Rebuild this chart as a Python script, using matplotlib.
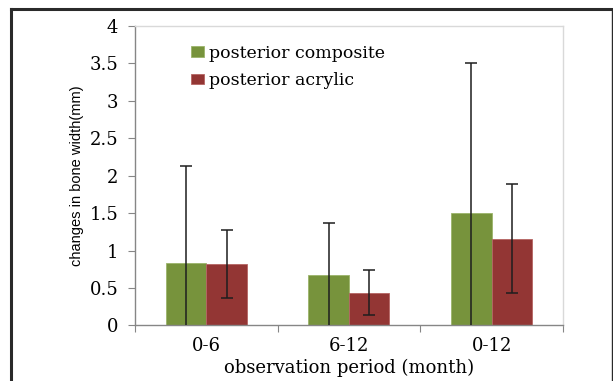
import matplotlib
matplotlib.use('Agg')
import matplotlib.pyplot as plt
from matplotlib.lines import Line2D

# data
periods = ['0-6', '6-12', '0-12']
composite = [0.83, 0.67, 1.50]
composite_err = [1.30, 0.70, 2.00]
acrylic = [0.82, 0.44, 1.16]
acrylic_err = [0.45, 0.30, 0.73]

green = '#77933c'
red = '#933634'
serif = ['DejaVu Serif']

fig = plt.figure(figsize=(6.13, 3.81), dpi=100)
ax = fig.add_axes([0.2202, 0.1457, 0.6982, 0.7861])

x = list(range(len(periods)))
w = 0.284
xg = [i - w / 2 for i in x]
xr = [i + w / 2 for i in x]

ax.bar(xg, composite, width=w, color=green, edgecolor='#9bb46a', linewidth=0.6,
       label='posterior composite', zorder=2)
ax.bar(xr, acrylic, width=w, color=red, edgecolor='#b56563', linewidth=0.6,
       label='posterior acrylic', zorder=2)
ax.errorbar(xg, composite, yerr=composite_err, fmt='none', ecolor='#1e1e1e',
            elinewidth=1.1, capsize=4, capthick=1.1, zorder=3)
ax.errorbar(xr, acrylic, yerr=acrylic_err, fmt='none', ecolor='#1e1e1e',
            elinewidth=1.1, capsize=4, capthick=1.1, zorder=3)

ax.set_xlim(-0.5, 2.5)
ax.set_ylim(0, 4)
ax.set_yticks([0, 0.5, 1, 1.5, 2, 2.5, 3, 3.5, 4])
ax.set_yticklabels(['0', '0.5', '1', '1.5', '2', '2.5', '3', '3.5', '4'],
                   fontfamily=serif, fontsize=13)

# category boundaries get the tick marks, labels sit in the middle
ax.set_xticks([-0.5, 0.5, 1.5, 2.5])
ax.set_xticklabels([])
ax.set_xticks(x, minor=True)
ax.set_xticklabels(periods, minor=True, fontfamily=serif, fontsize=13)
ax.tick_params(axis='x', which='minor', length=0, pad=8)
ax.tick_params(axis='x', which='major', length=5, color='#868686', direction='out')
ax.tick_params(axis='y', length=5, color='#868686', pad=7)

for s in ['left', 'bottom']:
    ax.spines[s].set_color('#868686')
    ax.spines[s].set_linewidth(1.0)
for s in ['top', 'right']:
    ax.spines[s].set_color('#d9d9d9')
    ax.spines[s].set_linewidth(1.0)

ax.set_xlabel('observation period (month)', fontfamily=serif, fontsize=13)
ax.xaxis.set_label_coords(0.5, -0.112)
ax.set_ylabel('changes in bone width(mm)', fontfamily='Liberation Sans',
              fontsize=10.5)
ax.yaxis.set_label_coords(-0.12, 0.5)

ax.legend(loc='upper left', bbox_to_anchor=(0.13, 0.937), frameon=False,
          prop={'family': 'DejaVu Serif', 'size': 12.5}, handlelength=0.75,
          handleheight=0.55, handletextpad=0.3, labelspacing=0.6,
          borderpad=0, borderaxespad=0)

# outer black frame of the figure panel
fig.add_artist(Line2D([11 / 613, 11 / 613], [-0.1, 1 - 8.5 / 381],
                      transform=fig.transFigure, color='#2a2a2a', lw=2.2))
fig.add_artist(Line2D([11 / 613, 611.5 / 613], [1 - 8.5 / 381, 1 - 8.5 / 381],
                      transform=fig.transFigure, color='#2a2a2a', lw=2.2))
fig.add_artist(Line2D([611.5 / 613, 611.5 / 613], [-0.1, 1 - 8.5 / 381],
                      transform=fig.transFigure, color='#2a2a2a', lw=1.0))

fig.savefig('out.png', dpi=100)
